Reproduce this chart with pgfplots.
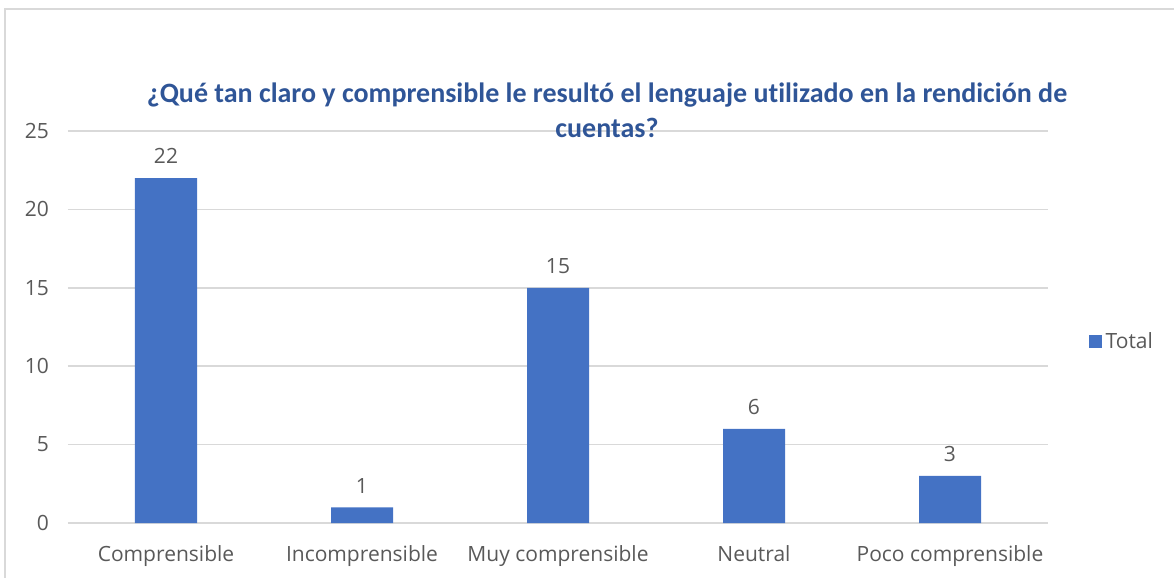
\documentclass[border=0pt]{standalone}
\usepackage{fontspec}
\setmainfont{Carlito}[RawFeature={-liga}]
\newfontfamily\lblfont{Open Sans}
\usepackage{pgfplots}
\pgfplotsset{compat=1.18}
\definecolor{barblue}{HTML}{4472C4}
\definecolor{titleblue}{HTML}{2F5597}
\definecolor{txtgray}{HTML}{595959}
\definecolor{gridgray}{HTML}{D9D9D9}
\begin{document}
\begin{tikzpicture}[x=0.5pt,y=-0.5pt]
\useasboundingbox (0,0) rectangle (1174,578);
\draw[gridgray,line width=1pt] (5,578) -- (5,9) -- (1174,9);
\begin{axis}[
  at={(34pt,-261.5pt)}, anchor=south west,
  scale only axis, width=490pt, height=196pt,
  ymin=0, ymax=25, ytick={0,5,...,25},
  xmin=-0.5, xmax=4.5,
  xtick={0,1,2,3,4},
  xticklabels={Comprensible,Incomprensible,Muy comprensible,Neutral,Poco comprensible},
  axis line style={draw=none},
  axis x line*=bottom,
  x axis line style={draw=gridgray,line width=0.8pt},
  ymajorgrids, grid style={gridgray,line width=0.8pt},
  major tick length=0pt,
  tick label style={font=\lblfont\fontsize{10.5}{12}\selectfont,text=txtgray},
  yticklabel style={xshift=-6pt},
  xticklabel style={yshift=-7.5pt},
  /pgf/number format/assume math mode=true,
  ybar, bar width=31pt,
  nodes near coords,
  nodes near coords style={font=\lblfont\fontsize{10.5}{12}\selectfont,text=txtgray,yshift=3.5pt},
  legend style={at={(1.041,0.462)},anchor=west,draw=none,fill=none,font=\lblfont\fontsize{10.5}{12}\selectfont,text=txtgray,inner sep=0pt},
  legend image code/.code={\fill[barblue] (0cm,-0.11cm) rectangle (0.23cm,0.12cm);},
  clip=false,
]
\addplot[fill=barblue,draw=none] coordinates {(0,22) (1,1) (2,15) (3,6) (4,3)};
\addlegendentry{Total}
\end{axis}
\node[font=\fontsize{14}{17.5}\selectfont\bfseries,text=titleblue,align=center] at (607,110) {¿Qué tan claro y comprensible le resultó el lenguaje utilizado en la rendición de\\cuentas?};
\end{tikzpicture}
\end{document}
